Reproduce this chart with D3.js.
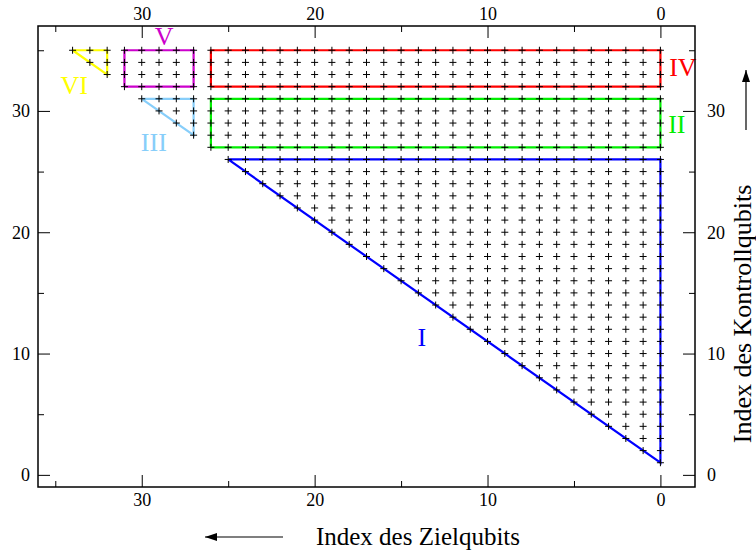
<!DOCTYPE html>
<html>
<head>
<meta charset="utf-8">
<script src="https://cdn.jsdelivr.net/npm/d3@7"></script>
<style>
  html, body { margin: 0; padding: 0; background: #fff; }
  svg { display: block; }
  text { font-family: "Liberation Serif", "DejaVu Serif", serif; }
</style>
</head>
<body>
<svg id="chart" width="756" height="550"></svg>
<script>
// Qubit index pairs (target, control) grouped into regions I–VI.
const regionNames = ["I", "II", "III", "IV", "V", "VI"];

// Each row: [control index, lowest target index, highest target index]
const rowsI = [
  [1, 0, 0], [2, 0, 1], [3, 0, 2], [4, 0, 3], [5, 0, 4], [6, 0, 5], [7, 0, 6],
  [8, 0, 7], [9, 0, 8], [10, 0, 9], [11, 0, 10], [12, 0, 11], [13, 0, 12],
  [14, 0, 13], [15, 0, 14], [16, 0, 15], [17, 0, 16], [18, 0, 17], [19, 0, 18],
  [20, 0, 19], [21, 0, 20], [22, 0, 21], [23, 0, 22], [24, 0, 23], [25, 0, 24],
  [26, 0, 25]
];
const rowsII = [[27, 0, 26], [28, 0, 26], [29, 0, 26], [30, 0, 26], [31, 0, 26]];
const rowsIII = [[28, 27, 27], [29, 27, 28], [30, 27, 29], [31, 27, 30]];
const rowsIV = [[32, 0, 26], [33, 0, 26], [34, 0, 26], [35, 0, 26]];
const rowsV = [[32, 27, 31], [33, 27, 31], [34, 27, 31], [35, 27, 31]];
const rowsVI = [[33, 32, 32], [34, 32, 33], [35, 32, 34]];

// Region outlines as (target, control) vertices
const outlineI = [[25, 26], [0, 26], [0, 1], [25, 26]];
const outlineII = [[26, 27], [0, 27], [0, 31], [26, 31], [26, 27]];
const outlineIII = [[30, 31], [27, 31], [27, 28], [30, 31]];
const outlineIV = [[26, 32], [0, 32], [0, 35], [26, 35], [26, 32]];
const outlineV = [[31, 32], [27, 32], [27, 35], [31, 35], [31, 32]];
const outlineVI = [[34, 35], [32, 35], [32, 33], [34, 35]];

const majorTicks = [0, 10, 20, 30];
const minorTicks = [5, 15, 25, 35];

const xTitle = "Index des Zielqubits";
const yTitle = "Index des Kontrollqubits";

// ---- drawing ----
const regionRows = [rowsI, rowsII, rowsIII, rowsIV, rowsV, rowsVI];
const regionOutlines = [outlineI, outlineII, outlineIII, outlineIV, outlineV, outlineVI];
const regionColors = ["#0000ff", "#00ee00", "#87cefa", "#ff0000", "#cc00cc", "#ffff00"];
// label anchors in (target, control) coordinates
const labelAt = [[13.8, 11.3], [-0.95, 28.9], [29.3, 27.4], [-1.3, 33.6], [28.7, 36.1], [33.9, 32.1]];

const svg = d3.select("#chart");
const plotL = 38, plotR = 695, plotT = 26, plotB = 487;

const x = d3.scaleLinear().domain([36, -2]).range([plotL, plotR]);
const y = d3.scaleLinear().domain([-1, 37]).range([plotB, plotT]);

const axisFont = 18;

function styleAxis(g) {
  g.select(".domain").remove();
  g.selectAll(".tick line").attr("stroke", "#000").attr("stroke-width", 1);
  g.selectAll(".tick text")
    .attr("font-family", "Liberation Serif, serif")
    .attr("font-size", axisFont)
    .attr("fill", "#000");
}

// major + minor ticks on all four sides (ticks point inward)
svg.append("g").attr("transform", `translate(0,${plotB})`)
  .call(d3.axisBottom(x).tickValues(majorTicks).tickSize(-12).tickPadding(6).tickFormat(d3.format("d")))
  .call(styleAxis);
svg.append("g").attr("transform", `translate(0,${plotB})`)
  .call(d3.axisBottom(x).tickValues(minorTicks).tickSize(-6).tickFormat(""))
  .call(styleAxis);
svg.append("g").attr("transform", `translate(0,${plotT})`)
  .call(d3.axisTop(x).tickValues(majorTicks).tickSize(-12).tickPadding(6).tickFormat(d3.format("d")))
  .call(styleAxis);
svg.append("g").attr("transform", `translate(0,${plotT})`)
  .call(d3.axisTop(x).tickValues(minorTicks).tickSize(-6).tickFormat(""))
  .call(styleAxis);
svg.append("g").attr("transform", `translate(${plotL},0)`)
  .call(d3.axisLeft(y).tickValues(majorTicks).tickSize(-12).tickPadding(8).tickFormat(d3.format("d")))
  .call(styleAxis);
svg.append("g").attr("transform", `translate(${plotL},0)`)
  .call(d3.axisLeft(y).tickValues(minorTicks).tickSize(-6).tickFormat(""))
  .call(styleAxis);
svg.append("g").attr("transform", `translate(${plotR},0)`)
  .call(d3.axisRight(y).tickValues(majorTicks).tickSize(-12).tickPadding(12).tickFormat(d3.format("d")))
  .call(styleAxis);
svg.append("g").attr("transform", `translate(${plotR},0)`)
  .call(d3.axisRight(y).tickValues(minorTicks).tickSize(-6).tickFormat(""))
  .call(styleAxis);

// region outlines
const line = d3.line().x(d => x(d[0])).y(d => y(d[1]));
svg.append("g").selectAll("path")
  .data(regionOutlines)
  .join("path")
  .attr("d", line)
  .attr("fill", "none")
  .attr("stroke", (d, i) => regionColors[i])
  .attr("stroke-width", 2.2)
  .attr("stroke-linejoin", "miter");

// plus markers at every (target, control) pair
const pairs = [];
regionRows.forEach(rows => rows.forEach(([c, t0, t1]) => {
  for (let t = t0; t <= t1; t++) pairs.push([t, c]);
}));
const arm = 3.5;
svg.append("g").selectAll("path")
  .data(pairs)
  .join("path")
  .attr("d", d => `M${x(d[0]) - arm},${y(d[1])}H${x(d[0]) + arm}M${x(d[0])},${y(d[1]) - arm}V${y(d[1]) + arm}`)
  .attr("stroke", "#000")
  .attr("stroke-width", 1);

// region labels
svg.append("g").selectAll("text")
  .data(regionNames)
  .join("text")
  .attr("x", (d, i) => x(labelAt[i][0]))
  .attr("y", (d, i) => y(labelAt[i][1]))
  .attr("text-anchor", "middle")
  .attr("dominant-baseline", "central")
  .attr("font-size", 26)
  .attr("fill", (d, i) => regionColors[i])
  .text(d => d);

// frame
svg.append("rect")
  .attr("x", plotL).attr("y", plotT)
  .attr("width", plotR - plotL).attr("height", plotB - plotT)
  .attr("fill", "none").attr("stroke", "#000").attr("stroke-width", 1.5);

// axis titles with direction arrows
svg.append("defs").append("marker")
  .attr("id", "head")
  .attr("viewBox", "0 0 12 8")
  .attr("refX", 12).attr("refY", 4)
  .attr("markerWidth", 12).attr("markerHeight", 8)
  .attr("markerUnits", "userSpaceOnUse")
  .attr("orient", "auto")
  .append("path").attr("d", "M0,0L12,4L0,8Z").attr("fill", "#000");

svg.append("text")
  .attr("x", 418).attr("y", 545)
  .attr("text-anchor", "middle")
  .attr("font-size", 25)
  .text(xTitle);
svg.append("line")
  .attr("x1", 283).attr("y1", 537).attr("x2", 205).attr("y2", 537)
  .attr("stroke", "#000").attr("stroke-width", 1.2)
  .attr("marker-end", "url(#head)");

svg.append("text")
  .attr("transform", "translate(751,314) rotate(-90)")
  .attr("text-anchor", "middle")
  .attr("font-size", 26)
  .text(yTitle);
svg.append("line")
  .attr("x1", 746).attr("y1", 130).attr("x2", 746).attr("y2", 70)
  .attr("stroke", "#000").attr("stroke-width", 1.2)
  .attr("marker-end", "url(#head)");
</script>
</body>
</html>
